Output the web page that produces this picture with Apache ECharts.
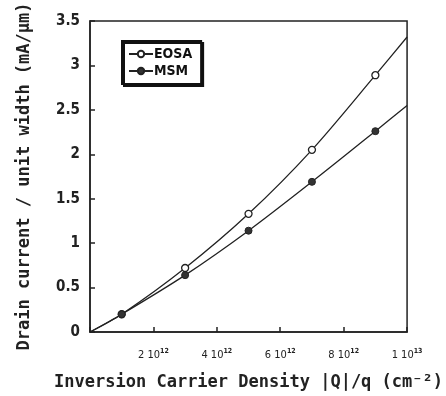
<!DOCTYPE html>
<html><head><meta charset="utf-8">
<script src="https://cdn.jsdelivr.net/npm/echarts@6/dist/echarts.min.js"></script>
<style>html,body{margin:0;padding:0;background:#fff}#c{width:446px;height:396px}</style>
</head><body><div id="c"></div>
<script>
var densities = [1e12, 3e12, 5e12, 7e12, 9e12];
var eosaValues = [0.20, 0.72, 1.33, 2.05, 2.89];
var msmValues = [0.20, 0.64, 1.14, 1.69, 2.26];
var curveStart = [0, 0];
var curveEndX = 1e13;
var eosaEnd = 3.32;
var msmEnd = 2.55;
var xTickMantissa = {2e12:'2', 4e12:'4', 6e12:'6', 8e12:'8', 1e13:'1'};
var xTickExp = {2e12:'12', 4e12:'12', 6e12:'12', 8e12:'12', 1e13:'13'};
var yTicks = ['0','0.5','1','1.5','2','2.5','3','3.5'];

function buildCurve(vals, endVal){
  var d = [{value: curveStart, symbol:'none'}];
  for (var i=0;i<densities.length;i++) d.push([densities[i], vals[i]]);
  d.push({value:[curveEndX, endVal], symbol:'none'});
  return d;
}

var chart = echarts.init(document.getElementById('c'));
var tickFont = 'DejaVu Sans Condensed';
chart.setOption({
  animation:false,
  grid:{left:90, right:38, top:21, bottom:59, show:true, borderColor:'#222', borderWidth:1.5, backgroundColor:'transparent'},
  legend:{
    left:122, top:41, orient:'vertical', padding:[6,9,6,6], itemGap:3,
    itemWidth:24, itemHeight:8,
    borderColor:'#111', borderWidth:2, backgroundColor:'#fff',
    shadowColor:'#111', shadowBlur:0, shadowOffsetX:2, shadowOffsetY:2,
    textStyle:{fontFamily:tickFont, fontWeight:'bold', fontSize:14, color:'#111', padding:[0,0,0,-4]},
    data:['EOSA','MSM']
  },
  xAxis:{
    type:'value', min:0, max:1e13, interval:2e12,
    axisLine:{lineStyle:{color:'#222', width:1.5}},
    axisTick:{inside:true, length:5, lineStyle:{color:'#222', width:1.5}},
    splitLine:{show:false},
    axisLabel:{margin:16, color:'#222',
      formatter:function(v){ if(!xTickMantissa[v]) return ''; return '{a|'+xTickMantissa[v]+' 10}{s|'+xTickExp[v]+'}'; },
      rich:{a:{fontFamily:tickFont, fontSize:11, color:'#222'},
            s:{fontFamily:tickFont, fontSize:7, fontWeight:'bold', color:'#222', padding:[0,0,7,0]}}},
    name:'Inversion Carrier Density |Q|/q (cm⁻²)', nameLocation:'middle', nameGap:42,
    nameTextStyle:{fontFamily:'DejaVu Sans Mono', fontWeight:'bold', fontSize:17, color:'#222'}
  },
  yAxis:{
    type:'value', min:0, max:3.5, interval:0.5,
    axisLine:{lineStyle:{color:'#222', width:1.5}},
    axisTick:{inside:true, length:5, lineStyle:{color:'#222', width:1.5}},
    splitLine:{show:false},
    axisLabel:{margin:10, fontFamily:tickFont, fontSize:15, fontWeight:'bold', color:'#222',
      formatter:function(v){ var i=Math.round(v/0.5); return yTicks[i]; }},
    name:'Drain current / unit width (mA/μm)', nameLocation:'middle', nameGap:57,
    nameTextStyle:{fontFamily:'DejaVu Sans Mono', fontWeight:'bold', fontSize:17, color:'#222'}
  },
  series:[
    {name:'EOSA', type:'line', smooth:0.3, data:buildCurve(eosaValues, eosaEnd),
     symbol:'circle', symbolSize:7, showAllSymbol:true,
     lineStyle:{color:'#222', width:1.3},
     itemStyle:{color:'#fff', borderColor:'#222', borderWidth:1.3}},
    {name:'MSM', type:'line', smooth:0.3, data:buildCurve(msmValues, msmEnd),
     symbol:'circle', symbolSize:7, showAllSymbol:true,
     lineStyle:{color:'#222', width:1.3},
     itemStyle:{color:'#333', borderColor:'#222', borderWidth:1}}
  ]
});
</script></body></html>
